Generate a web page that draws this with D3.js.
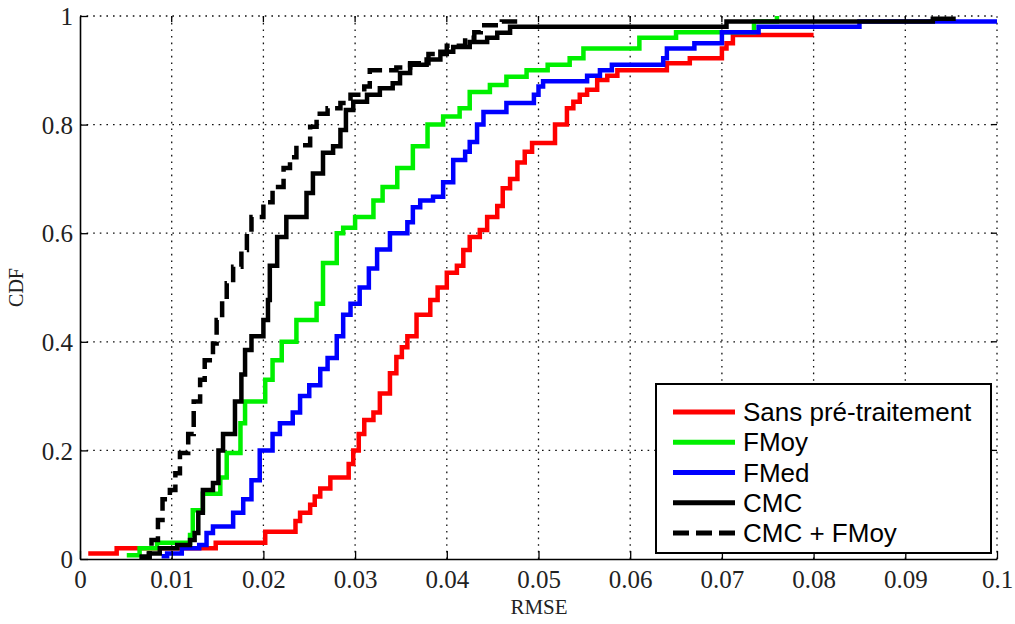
<!DOCTYPE html>
<html>
<head>
<meta charset="utf-8">
<script src="https://cdn.jsdelivr.net/npm/d3@7"></script>
<style>
  html, body { margin: 0; padding: 0; background: #fff; }
  svg { display: block; }
</style>
</head>
<body>
<svg id="chart" width="1015" height="624"></svg>
<script>
// ---- Data ----
const xTickValues = [0, 0.01, 0.02, 0.03, 0.04, 0.05, 0.06, 0.07, 0.08, 0.09, 0.1];
const xTickLabels = ["0", "0.01", "0.02", "0.03", "0.04", "0.05", "0.06", "0.07", "0.08", "0.09", "0.1"];
const yTickValues = [0, 0.2, 0.4, 0.6, 0.8, 1];
const yTickLabels = ["0", "0.2", "0.4", "0.6", "0.8", "1"];
const seriesNames = ["Sans pré-traitement", "FMoy", "FMed", "CMC", "CMC + FMoy"];

const sansRmse = [0.0009,0.004,0.0148,0.0202,0.0235,0.024,0.0251,0.0256,0.0262,0.0273,0.0293,0.0298,0.0304,0.031,0.032,0.0327,0.0338,0.0345,0.0351,0.0357,0.0367,0.0382,0.039,0.040,0.0411,0.0418,0.0425,0.0436,0.0444,0.0455,0.0461,0.0469,0.0477,0.0485,0.0493,0.0518,0.0531,0.0538,0.0545,0.0553,0.0564,0.0575,0.0586,0.064,0.0665,0.070,0.0705,0.0712,0.080];
const sansCdf  = [0.01,0.02,0.03,0.05,0.07,0.085,0.10,0.115,0.13,0.15,0.175,0.20,0.23,0.256,0.27,0.305,0.342,0.372,0.39,0.41,0.45,0.477,0.50,0.527,0.54,0.569,0.593,0.606,0.63,0.65,0.683,0.70,0.73,0.75,0.766,0.80,0.83,0.842,0.855,0.864,0.882,0.89,0.90,0.913,0.922,0.94,0.95,0.965,0.965];

const fmoyRmse = [0.0051,0.0065,0.0084,0.012,0.0123,0.0134,0.0153,0.016,0.0175,0.018,0.0202,0.021,0.022,0.0236,0.0258,0.0265,0.028,0.0287,0.030,0.032,0.033,0.0346,0.0363,0.0379,0.0396,0.0414,0.0425,0.0447,0.0465,0.0487,0.051,0.0534,0.0549,0.061,0.065,0.0735,0.076];
const fmoyCdf  = [0.007,0.02,0.03,0.044,0.09,0.12,0.15,0.195,0.25,0.29,0.33,0.366,0.40,0.44,0.47,0.545,0.60,0.61,0.63,0.66,0.685,0.72,0.76,0.80,0.815,0.83,0.86,0.873,0.888,0.90,0.91,0.922,0.94,0.96,0.97,0.99,1.0];

const fmedRmse = [0.0089,0.0095,0.0111,0.013,0.0138,0.0145,0.0167,0.0178,0.0187,0.0196,0.021,0.0218,0.0232,0.024,0.025,0.0262,0.027,0.028,0.0287,0.0295,0.0305,0.0315,0.0324,0.0338,0.0357,0.0363,0.0371,0.0385,0.0396,0.0407,0.042,0.0425,0.0433,0.044,0.0465,0.0495,0.050,0.0505,0.0553,0.0567,0.058,0.0636,0.064,0.067,0.070,0.074,0.085,0.1];
const fmedCdf  = [0.005,0.01,0.02,0.026,0.048,0.06,0.085,0.11,0.145,0.20,0.23,0.25,0.27,0.30,0.32,0.35,0.37,0.41,0.45,0.47,0.50,0.535,0.57,0.60,0.62,0.648,0.66,0.667,0.694,0.735,0.75,0.768,0.80,0.823,0.84,0.855,0.87,0.88,0.89,0.90,0.91,0.922,0.94,0.95,0.97,0.98,0.99,0.99];

const cmcRmse = [0.0065,0.0076,0.0087,0.0106,0.012,0.0125,0.0129,0.0134,0.0145,0.0151,0.0156,0.0169,0.0176,0.018,0.0187,0.020,0.0205,0.0207,0.0215,0.0225,0.0247,0.0254,0.0265,0.0276,0.0284,0.029,0.0298,0.0313,0.0327,0.0341,0.0349,0.036,0.0378,0.0393,0.0407,0.0425,0.0444,0.0455,0.0469,0.0705,0.093,0.0955];
const cmcCdf  = [0.004,0.01,0.02,0.026,0.035,0.048,0.085,0.127,0.14,0.20,0.23,0.29,0.34,0.385,0.41,0.44,0.477,0.54,0.593,0.63,0.674,0.71,0.748,0.76,0.79,0.827,0.842,0.855,0.867,0.876,0.895,0.91,0.92,0.934,0.943,0.952,0.96,0.969,0.98,0.99,0.995,0.995];

const cmcFmoyRmse = [0.0065,0.0075,0.0076,0.0078,0.0085,0.009,0.0098,0.0104,0.0109,0.0118,0.0124,0.0131,0.0136,0.0145,0.0149,0.0155,0.016,0.0167,0.0176,0.0182,0.0187,0.020,0.021,0.0222,0.0229,0.0236,0.0251,0.0258,0.027,0.0284,0.0295,0.031,0.0316,0.0345,0.036,0.038,0.040,0.042,0.043,0.0437,0.046,0.048];
const cmcFmoyCdf  = [0.004,0.01,0.02,0.035,0.072,0.11,0.127,0.158,0.195,0.23,0.29,0.33,0.366,0.397,0.44,0.477,0.508,0.538,0.569,0.60,0.63,0.657,0.685,0.72,0.74,0.762,0.796,0.82,0.83,0.84,0.855,0.87,0.90,0.905,0.913,0.93,0.945,0.96,0.97,0.983,0.99,0.99];

const seriesColors = ["#ff0000", "#00f000", "#0000ff", "#000000", "#000000"];
const seriesDash = [null, null, null, null, "16,7"];

// ---- Build ----
const series = [
  {name: seriesNames[0], xs: sansRmse, ys: sansCdf},
  {name: seriesNames[1], xs: fmoyRmse, ys: fmoyCdf},
  {name: seriesNames[2], xs: fmedRmse, ys: fmedCdf},
  {name: seriesNames[3], xs: cmcRmse, ys: cmcCdf},
  {name: seriesNames[4], xs: cmcFmoyRmse, ys: cmcFmoyCdf}
].map((s, i) => ({...s, color: seriesColors[i], dash: seriesDash[i],
  pts: s.xs.map((x, j) => [x, s.ys[j]])}));

const svg = d3.select("#chart");
const L = 80, R = 997, T = 16, B = 559;
const x = d3.scaleLinear().domain([0, 0.1]).range([L, R]);
const y = d3.scaleLinear().domain([0, 1]).range([B, T]);

// grid
const grid = svg.append("g").attr("stroke", "#111").attr("stroke-width", 1.3)
  .attr("stroke-dasharray", "1.6,5");
grid.selectAll("line.v").data(xTickValues.slice(1)).join("line")
  .attr("x1", d => x(d)).attr("x2", d => x(d)).attr("y1", B).attr("y2", T);
grid.selectAll("line.h").data(yTickValues.slice(1)).join("line")
  .attr("y1", d => y(d)).attr("y2", d => y(d)).attr("x1", L).attr("x2", R);

// curves
const line = d3.line().x(d => x(d[0])).y(d => y(d[1])).curve(d3.curveStepAfter);
svg.append("g").selectAll("path").data(series).join("path")
  .attr("d", d => line(d.pts))
  .attr("fill", "none")
  .attr("stroke", d => d.color)
  .attr("stroke-width", 4.5)
  .attr("stroke-dasharray", d => d.dash)
  .attr("stroke-linejoin", "miter");

// axes
const xAxis = d3.axisBottom(x).tickValues(xTickValues)
  .tickFormat((d, i) => xTickLabels[i]).tickSizeInner(-8).tickSizeOuter(0).tickPadding(11);
const gx = svg.append("g").attr("transform", `translate(0,${B})`).call(xAxis);
const yAxis = d3.axisLeft(y).tickValues(yTickValues)
  .tickFormat((d, i) => yTickLabels[i]).tickSizeInner(-8).tickSizeOuter(0).tickPadding(7);
const gy = svg.append("g").attr("transform", `translate(${L},0)`).call(yAxis);
[gx, gy].forEach(g => {
  g.select(".domain").attr("stroke", "#000").attr("stroke-width", 1.6);
  g.selectAll(".tick line").attr("stroke", "#000").attr("stroke-width", 1.3);
  g.selectAll(".tick text").attr("fill", "#222")
    .style("font-family", "'Liberation Serif', 'Times New Roman', serif")
    .style("font-size", "25px");
});
gy.selectAll(".tick text").attr("dy", "0.35em");
gx.selectAll(".tick text").attr("dy", "0.71em");

// top/right small ticks
const tk = svg.append("g").attr("stroke", "#000").attr("stroke-width", 1.3);
tk.selectAll("line.t").data(xTickValues.slice(1, -1)).join("line")
  .attr("x1", d => x(d)).attr("x2", d => x(d)).attr("y1", T).attr("y2", T + 6);
tk.selectAll("line.r").data(yTickValues.slice(1, -1)).join("line")
  .attr("y1", d => y(d)).attr("y2", d => y(d)).attr("x1", R).attr("x2", R - 6);

// axis titles
svg.append("text").attr("x", 539).attr("y", 614).attr("text-anchor", "middle")
  .style("font-family", "'Liberation Serif', 'Times New Roman', serif")
  .style("font-size", "21px").attr("fill", "#222").text("RMSE");
svg.append("text").attr("transform", `translate(23,${(T + B) / 2}) rotate(-90)`)
  .attr("text-anchor", "middle")
  .style("font-family", "'Liberation Serif', 'Times New Roman', serif")
  .style("font-size", "20px").attr("fill", "#222").text("CDF");

// legend
const lg = svg.append("g");
lg.append("rect").attr("x", 656).attr("y", 384).attr("width", 335).attr("height", 169)
  .attr("fill", "#fff").attr("stroke", "#000").attr("stroke-width", 2);
const rowY = d3.scalePoint().domain(seriesNames).range([412, 533]);
const rows = lg.selectAll("g.row").data(series).join("g")
  .attr("transform", d => `translate(0,${rowY(d.name)})`);
rows.append("line").attr("x1", 673).attr("x2", 735).attr("y1", 0).attr("y2", 0)
  .attr("stroke", d => d.color).attr("stroke-width", 5)
  .attr("stroke-dasharray", d => d.dash);
rows.append("text").attr("x", 743).attr("y", 0).attr("dy", "0.35em")
  .style("font-family", "'Liberation Sans', Arial, sans-serif")
  .style("font-size", "26px").attr("fill", "#000").text(d => d.name);
</script>
</body>
</html>
